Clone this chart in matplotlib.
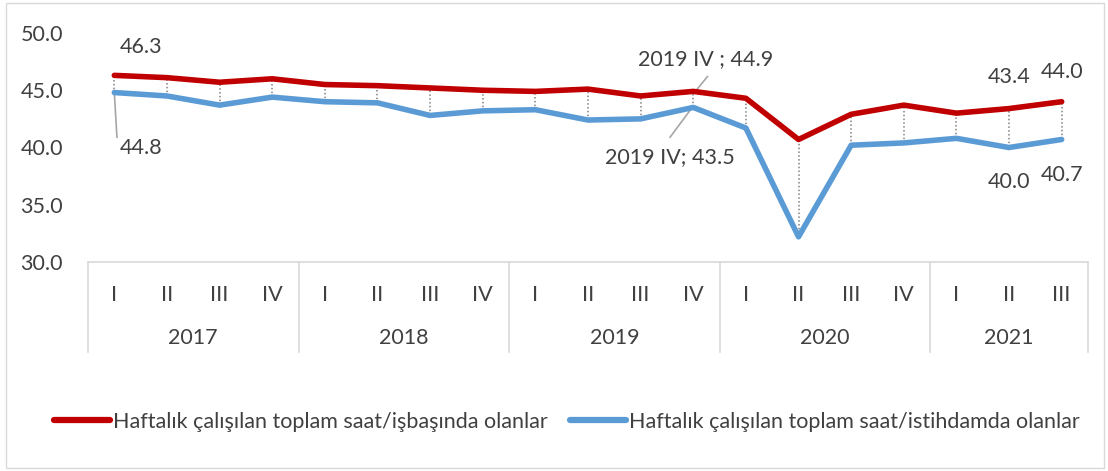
import numpy as np
import matplotlib
matplotlib.use('Agg')
import matplotlib.pyplot as plt
from matplotlib.patches import Rectangle

years = ['2017', '2018', '2019', '2020', '2021']
quarters = ['I', 'II', 'III', 'IV'] * 4 + ['I', 'II', 'III']
isbasinda = [46.3, 46.1, 45.7, 46.0, 45.5, 45.4, 45.2, 45.0, 44.9, 45.1,
             44.5, 44.9, 44.3, 40.7, 42.9, 43.7, 43.0, 43.4, 44.0]
istihdam = [44.8, 44.5, 43.7, 44.4, 44.0, 43.9, 42.8, 43.2, 43.3, 42.4,
            42.5, 43.5, 41.7, 32.2, 40.2, 40.4, 40.8, 40.0, 40.7]
names = ['Haftalık çalışılan toplam saat/işbaşında olanlar',
         'Haftalık çalışılan toplam saat/istihdamda olanlar']

RED = '#C00000'
BLUE = '#5B9BD5'
TXT = '#404040'
GRID = '#D9D9D9'
FS = 15.5
plt.rcParams['font.family'] = ['Lato', 'DejaVu Sans']

W, H = 1108, 471
fig = plt.figure(figsize=(W / 100, H / 100), dpi=100)
fig.patches.append(Rectangle((6 / W, 3 / H), 1098 / W, 465 / H, transform=fig.transFigure,
                             fill=False, edgecolor=GRID, lw=1))

ax = fig.add_axes([88 / W, (H - 262) / H, 1000 / W, 229 / H])
x = np.arange(len(quarters))
ax.vlines(x, istihdam, isbasinda, colors='#808080', linestyles=(0, (1, 1.5)), lw=1.1, zorder=1)
ax.plot(x, isbasinda, color=RED, lw=4, solid_capstyle='round', label=names[0], zorder=3)
ax.plot(x, istihdam, color=BLUE, lw=4, solid_capstyle='round', label=names[1], zorder=3)

ax.set_xlim(-0.5, len(quarters) - 0.5)
ax.set_ylim(30, 50)
ax.set_yticks([30, 35, 40, 45, 50])
ax.set_yticklabels([f'{v:.1f}' for v in [30, 35, 40, 45, 50]])
ax.tick_params(axis='y', length=0, pad=18, labelsize=FS, labelcolor=TXT)
ax.set_xticks([])
for s in ax.spines.values():
    s.set_visible(False)

# category table under the plot
tr = ax.get_xaxis_transform()
bot = -90 / 229
ax.plot([-0.5, len(quarters) - 0.5], [0, 0], transform=tr, color=GRID, lw=1.2, clip_on=False)
bounds = [-0.5, 3.5, 7.5, 11.5, 15.5, len(quarters) - 0.5]
for b in bounds:
    ax.plot([b, b], [0, bot], transform=tr, color=GRID, lw=1.2, clip_on=False)
for i, q in enumerate(quarters):
    ax.text(i, -33 / 229, q, transform=tr, ha='center', va='center', fontsize=FS, color=TXT)
for j, yr in enumerate(years):
    ax.text((bounds[j] + bounds[j + 1]) / 2, -76 / 229, yr, transform=tr,
            ha='center', va='center', fontsize=FS, color=TXT)

# data labels
lab = dict(fontsize=FS, color=TXT, ha='center', va='center')
lead = dict(color='#A6A6A6', lw=1.2)
ax.text(0.5, 48.8, f'{isbasinda[0]:.1f}', **lab)
ax.text(0.5, 39.95, f'{istihdam[0]:.1f}', **lab)
ax.plot([0, 0.05], [istihdam[0], 40.9], **lead)
ax.text(11.24, 47.7, f'2019 IV ; {isbasinda[11]:.1f}', **lab)
ax.plot([11.04, 11.27], [isbasinda[11], 46.2], **lead)
ax.text(10.56, 39.2, f'2019 IV; {istihdam[11]:.1f}', **lab)
ax.plot([10.56, 10.98], [40.9, istihdam[11]], **lead)
ax.text(17, 46.15, f'{isbasinda[17]:.1f}', **lab)
ax.text(18, 46.6, f'{isbasinda[18]:.1f}', **lab)
ax.text(17, 37.0, f'{istihdam[17]:.1f}', **lab)
ax.text(18, 37.6, f'{istihdam[18]:.1f}', **lab)

leg = fig.legend(loc='center', bbox_to_anchor=(567 / W, 1 - 422 / H), ncol=2, frameon=False,
                 fontsize=FS, labelcolor=TXT, handlelength=2.6, handletextpad=0.15,
                 columnspacing=1.0)
for h in leg.legend_handles:
    h.set_linewidth(4.5)

fig.savefig('out.png', dpi=100, facecolor='white')
